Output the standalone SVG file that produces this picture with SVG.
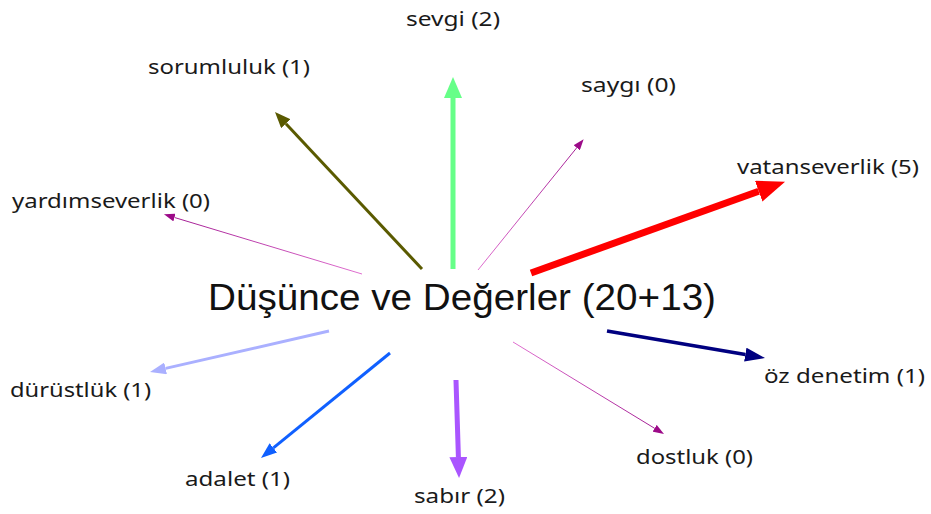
<svg xmlns="http://www.w3.org/2000/svg" width="931" height="514" viewBox="0 0 931 514">
<style>
.lbl{font-family:"Noto Sans","Open Sans","Liberation Sans",sans-serif;font-size:20px;fill:#1a1a1a}
.ttl{font-family:"Liberation Sans","DejaVu Sans",sans-serif;font-size:36px;fill:#111}
.c{fill:none;stroke-linecap:butt}
</style>
<defs>
<linearGradient id="gMag1" gradientUnits="userSpaceOnUse" x1="478" y1="270" x2="583" y2="140"><stop offset="0" stop-color="#e070d0"/><stop offset="1" stop-color="#a01890"/></linearGradient>
<linearGradient id="gMag2" gradientUnits="userSpaceOnUse" x1="362" y1="274" x2="163" y2="214"><stop offset="0" stop-color="#e070d0"/><stop offset="1" stop-color="#a01890"/></linearGradient>
<linearGradient id="gMag3" gradientUnits="userSpaceOnUse" x1="513" y1="342" x2="664" y2="434"><stop offset="0" stop-color="#e070d0"/><stop offset="1" stop-color="#a01890"/></linearGradient>
<marker id="mGreen" markerUnits="userSpaceOnUse" markerWidth="21" markerHeight="18" refX="0" refY="9" orient="auto"><path d="M0,0 L21,9 L0,18 z" fill="#66ff88"/></marker>
<marker id="mOlive" markerUnits="userSpaceOnUse" markerWidth="16" markerHeight="13" refX="0" refY="6.5" orient="auto"><path d="M0,0 L16,6.5 L0,13 z" fill="#5a5a00"/></marker>
<marker id="mMag" markerUnits="userSpaceOnUse" markerWidth="11" markerHeight="8" refX="0" refY="4" orient="auto"><path d="M0,0 L11,4 L0,8 z" fill="#9c0a88"/></marker>
<marker id="mRed" markerUnits="userSpaceOnUse" markerWidth="28" markerHeight="22" refX="0" refY="11" orient="auto"><path d="M0,0 L28,11 L0,22 z" fill="#ff0000"/></marker>
<marker id="mLav" markerUnits="userSpaceOnUse" markerWidth="16" markerHeight="12" refX="0" refY="6" orient="auto"><path d="M0,0 L16,6 L0,12 z" fill="#aab0ff"/></marker>
<marker id="mBlue" markerUnits="userSpaceOnUse" markerWidth="16" markerHeight="12" refX="0" refY="6" orient="auto"><path d="M0,0 L16,6 L0,12 z" fill="#1060ff"/></marker>
<marker id="mPurple" markerUnits="userSpaceOnUse" markerWidth="21" markerHeight="18" refX="0" refY="9" orient="auto"><path d="M0,0 L21,9 L0,18 z" fill="#aa55ff"/></marker>
<marker id="mNavy" markerUnits="userSpaceOnUse" markerWidth="20" markerHeight="14" refX="0" refY="7" orient="auto"><path d="M0,0 L20,7 L0,14 z" fill="#000080"/></marker>
</defs>
<rect width="931" height="514" fill="#ffffff"/>
<g id="connectors">
<line class="c" x1="453" y1="269" x2="453" y2="98" stroke="#66ff88" stroke-width="5" marker-end="url(#mGreen)"/>
<line class="c" x1="422" y1="269" x2="285.9" y2="123.7" stroke="#5a5a00" stroke-width="3" marker-end="url(#mOlive)"/>
<line class="c" x1="478" y1="270" x2="576.7" y2="147.8" stroke="url(#gMag1)" stroke-width="1" marker-end="url(#mMag)"/>
<line class="c" x1="531" y1="273" x2="758.7" y2="191.2" stroke="#ff0000" stroke-width="7" marker-end="url(#mRed)"/>
<line class="c" x1="362" y1="274" x2="174.5" y2="217.5" stroke="url(#gMag2)" stroke-width="1" marker-end="url(#mMag)"/>
<line class="c" x1="329" y1="331" x2="165.6" y2="368.4" stroke="#aab0ff" stroke-width="3" marker-end="url(#mLav)"/>
<line class="c" x1="390" y1="353" x2="273.4" y2="447.9" stroke="#1060ff" stroke-width="3" marker-end="url(#mBlue)"/>
<line class="c" x1="456" y1="380" x2="458.4" y2="457" stroke="#aa55ff" stroke-width="5" marker-end="url(#mPurple)"/>
<line class="c" x1="513" y1="342" x2="654.6" y2="428.3" stroke="url(#gMag3)" stroke-width="1" marker-end="url(#mMag)"/>
<line class="c" x1="607" y1="331" x2="745.3" y2="354.6" stroke="#000080" stroke-width="3.5" marker-end="url(#mNavy)"/>
</g>
<g id="center"><text class="ttl" x="208" y="310" textLength="508" lengthAdjust="spacingAndGlyphs">Düşünce ve Değerler (20+13)</text></g>
<g id="sevgi"><text class="lbl" x="406" y="26" textLength="94" lengthAdjust="spacingAndGlyphs">sevgi (2)</text></g>
<g id="sorumluluk"><text class="lbl" x="148" y="74" textLength="162" lengthAdjust="spacingAndGlyphs">sorumluluk (1)</text></g>
<g id="saygi"><text class="lbl" x="581" y="92" textLength="95" lengthAdjust="spacingAndGlyphs">saygı (0)</text></g>
<g id="vatanseverlik"><text class="lbl" x="737" y="174" textLength="182" lengthAdjust="spacingAndGlyphs">vatanseverlik (5)</text></g>
<g id="yardimseverlik"><text class="lbl" x="12" y="208" textLength="198" lengthAdjust="spacingAndGlyphs">yardımseverlik (0)</text></g>
<g id="durustluk"><text class="lbl" x="10" y="397" textLength="141" lengthAdjust="spacingAndGlyphs">dürüstlük (1)</text></g>
<g id="adalet"><text class="lbl" x="185" y="486" textLength="105" lengthAdjust="spacingAndGlyphs">adalet (1)</text></g>
<g id="sabir"><text class="lbl" x="414" y="503" textLength="91" lengthAdjust="spacingAndGlyphs">sabır (2)</text></g>
<g id="dostluk"><text class="lbl" x="636" y="464" textLength="117" lengthAdjust="spacingAndGlyphs">dostluk (0)</text></g>
<g id="ozdenetim"><text class="lbl" x="764" y="383" textLength="161" lengthAdjust="spacingAndGlyphs">öz denetim (1)</text></g>
</svg>
